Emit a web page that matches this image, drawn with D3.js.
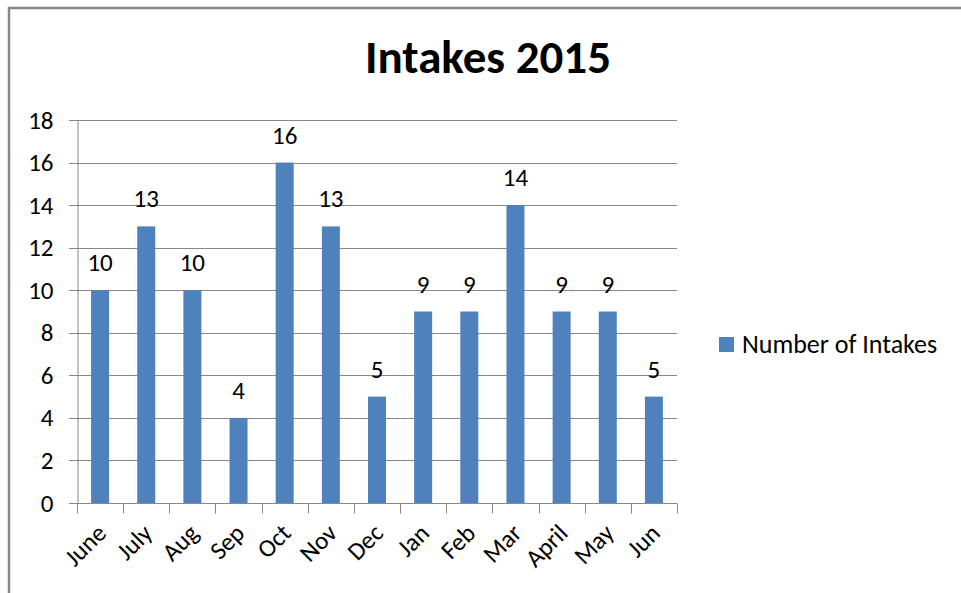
<!DOCTYPE html>
<html>
<head>
<meta charset="utf-8">
<script src="https://cdn.jsdelivr.net/npm/d3@7"></script>
<style>
  html, body { margin: 0; padding: 0; background: #fff; }
  svg { display: block; }
  text { font-family: Calibri, Carlito, "Open Sans", sans-serif; fill: #000; }
</style>
</head>
<body>
<svg id="chart" width="961" height="593"></svg>
<script>
// Monthly intake counts
const months = ["June", "July", "Aug", "Sep", "Oct", "Nov", "Dec", "Jan", "Feb", "Mar", "April", "May", "Jun"];
const intakes = [10, 13, 10, 4, 16, 13, 5, 9, 9, 14, 9, 9, 5];
const yTicks = [0, 2, 4, 6, 8, 10, 12, 14, 16, 18];
const seriesName = "Number of Intakes";
const chartTitle = "Intakes 2015";

const svg = d3.select("#chart");
const barColor = "#4F81BD";
const gridColor = "#888888";
const labelSize = 25;

// outer chart frame (top and left edges visible)
svg.append("path")
  .attr("d", "M9,593 L9,8 L961,8")
  .attr("fill", "none")
  .attr("stroke", "#888")
  .attr("stroke-width", 2.5);

const plot = { left: 77, right: 677, top: 120, bottom: 503 };

const x = d3.scaleBand()
  .domain(months)
  .range([plot.left, plot.right])
  .paddingInner(0)
  .paddingOuter(0);

const y = d3.scaleLinear()
  .domain([0, 18])
  .range([plot.bottom, plot.top]);

// title
svg.append("text")
  .attr("x", 488)
  .attr("y", 73)
  .attr("text-anchor", "middle")
  .attr("font-weight", "bold")
  .attr("font-size", 47)
  .text(chartTitle);

// horizontal gridlines
svg.append("g")
  .selectAll("line")
  .data(yTicks)
  .join("line")
  .attr("x1", plot.left - 8)
  .attr("x2", plot.right)
  .attr("y1", d => Math.round(y(d)) + 0.5)
  .attr("y2", d => Math.round(y(d)) + 0.5)
  .attr("stroke", gridColor)
  .attr("stroke-width", 1);

// y axis
const yAxis = d3.axisLeft(y).tickValues(yTicks).tickSize(0).tickPadding(24);
const gy = svg.append("g")
  .attr("transform", `translate(${plot.left + 0.5},0)`)
  .call(yAxis);
gy.select(".domain").attr("stroke", gridColor);
gy.selectAll("text")
  .attr("font-size", labelSize)
  .attr("font-family", "Calibri, Carlito, 'Open Sans', sans-serif")
  .attr("fill", "#000");

// x axis baseline with category boundary ticks
const gx = svg.append("g")
  .attr("transform", `translate(0,${Math.round(plot.bottom) + 0.5})`);
gx.append("line")
  .attr("x1", plot.left).attr("x2", plot.right)
  .attr("stroke", gridColor);
gx.selectAll("line.bound")
  .data(d3.range(months.length + 1))
  .join("line")
  .attr("class", "bound")
  .attr("x1", i => Math.round(plot.left + i * x.step()) + 0.5)
  .attr("x2", i => Math.round(plot.left + i * x.step()) + 0.5)
  .attr("y1", 0).attr("y2", 10)
  .attr("stroke", gridColor);

// rotated month labels
svg.append("g")
  .selectAll("text")
  .data(months)
  .join("text")
  .attr("transform", d => `translate(${x(d) + x.bandwidth() / 2 - 3},${plot.bottom + 21}) rotate(-45)`)
  .attr("text-anchor", "end")
  .attr("dy", "0.6em")
  .attr("font-size", labelSize)
  .text(d => d);

// bars
const barW = 18;
svg.append("g")
  .selectAll("rect")
  .data(intakes)
  .join("rect")
  .attr("x", (d, i) => x(months[i]) + x.bandwidth() / 2 - barW / 2)
  .attr("y", d => y(d))
  .attr("width", barW)
  .attr("height", d => y(0) - y(d))
  .attr("fill", barColor);

// value labels
svg.append("g")
  .selectAll("text")
  .data(intakes)
  .join("text")
  .attr("x", (d, i) => x(months[i]) + x.bandwidth() / 2)
  .attr("y", d => y(d) - 19)
  .attr("text-anchor", "middle")
  .attr("font-size", labelSize)
  .text(d => d);

// legend
const lg = svg.append("g").attr("transform", "translate(719,337)");
lg.append("rect").attr("width", 15).attr("height", 15).attr("fill", barColor);
lg.append("text")
  .attr("x", 23)
  .attr("y", 15.5)
  .attr("font-size", 26)
  .text(seriesName);
</script>
</body>
</html>
